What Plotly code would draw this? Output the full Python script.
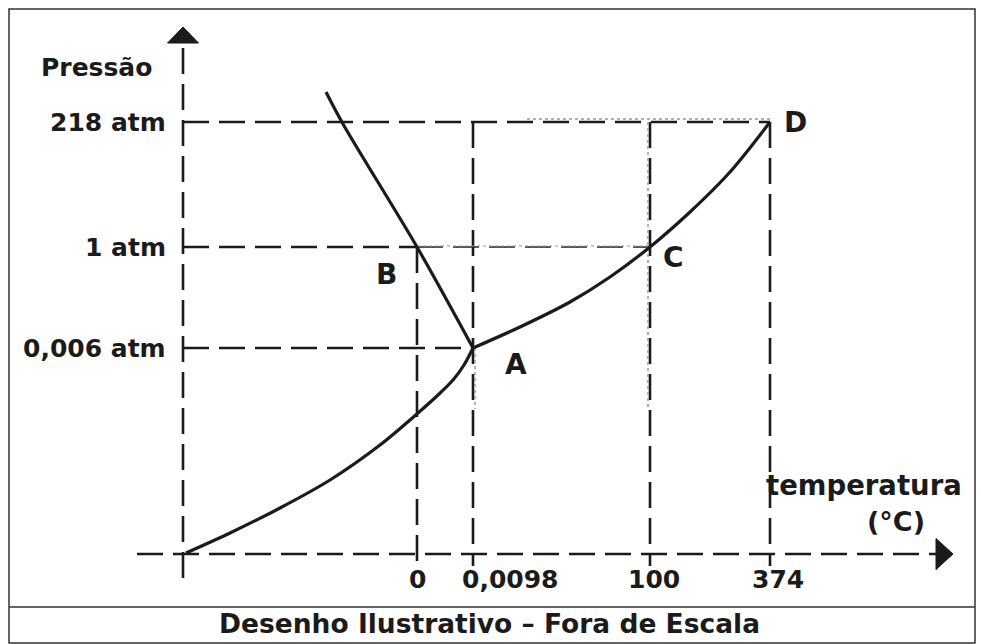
import plotly.graph_objects as go

# ---- Illustrative (not to scale) phase diagram of water ----
# positions along the drawn axes, in diagram units (origin = axes crossing)
temp_labels = ["0", "0,0098", "100", "374"]
temp_pos = [234, 290, 467, 587]
temp_label_shift = [0, 37, 4, 8]

press_labels = ["0,006 atm", "1 atm", "218 atm"]
press_pos = [206, 307, 432]

# special points: A triple point, B melting at 1 atm, C boiling at 1 atm, D critical point
point_names = ["A", "B", "C", "D"]
point_x = [temp_pos[1], temp_pos[0], temp_pos[2], temp_pos[3]]
point_y = [press_pos[0], press_pos[1], press_pos[1], press_pos[2]]
point_label_dx = [43, -31, 23, 25]
point_label_dy = [-16, -27, -10, 0]

# curves
sub_x = [3, 47, 97, 147, 197, 235, 255, 270, 281, 290]
sub_y = [1, 21, 46, 74, 109, 141, 159, 174, 189, 206]
vap_x = [290, 337, 387, 427, 467, 507, 547, 587]
vap_y = [206, 227, 252, 277, 307, 342, 382, 432]
fus_x = [143, 160, 234, 290]
fus_y = [462, 430, 307, 206]

W, H = 981, 644
X0, Y0 = 183, 554  # pixel position of the origin

INK = "#1b1b1b"
DASH = "26px,10px"
FONT = dict(family="DejaVu Sans", color=INK, weight="bold")

fig = go.Figure()


def seg(xs, ys, width=2.6, dash=DASH, color=INK):
    fig.add_trace(go.Scatter(x=xs, y=ys, mode="lines", hoverinfo="skip",
                             line=dict(color=color, width=width, dash=dash)))


# axes
Y_BOTTOM, Y_TOP, ARW = -24, 511, 16
X_LEFT, X_RIGHT = -46, 753
seg([0, 0], [Y_BOTTOM, Y_TOP])
seg([X_LEFT, X_RIGHT], [0, 0])
# arrowheads
fig.add_trace(go.Scatter(x=[-15.5, 15.5, 0, -15.5], y=[Y_TOP, Y_TOP, Y_TOP + ARW, Y_TOP],
                         mode="lines", fill="toself", fillcolor=INK, hoverinfo="skip",
                         line=dict(color=INK, width=1)))
fig.add_trace(go.Scatter(x=[X_RIGHT, X_RIGHT, X_RIGHT + 17, X_RIGHT], y=[15.5, -15.5, 0, 15.5],
                         mode="lines", fill="toself", fillcolor=INK, hoverinfo="skip",
                         line=dict(color=INK, width=1)))

# horizontal guide lines from the pressure axis
seg([0, point_x[0]], [press_pos[0]] * 2)
seg([0, point_x[1]], [press_pos[1]] * 2)
seg([point_x[1], point_x[2]], [press_pos[1]] * 2, width=2, color="#555")
seg([0, point_x[3]], [press_pos[2]] * 2)
# vertical guide lines to the temperature axis
seg([temp_pos[0]] * 2, [press_pos[1], -12])
seg([temp_pos[1]] * 2, [press_pos[2], -12])
seg([temp_pos[2]] * 2, [press_pos[2], -12])
seg([temp_pos[3]] * 2, [press_pos[2], -12])

# faint dotted scan residue
seg([temp_pos[1] + 54, temp_pos[3]], [press_pos[2] + 3] * 2, width=1.5, dash="dot", color="#999")
seg([temp_pos[2] - 2] * 2, [press_pos[2], 145], width=1.5, dash="dot", color="#999")
seg([temp_pos[1] + 2] * 2, [press_pos[0], 145], width=1.5, dash="dot", color="#999")
seg([temp_pos[0], temp_pos[2]], [press_pos[1] + 1] * 2, width=1.2, dash="dot", color="#999")

# phase boundary curves
for xs, ys in [(sub_x, sub_y), (vap_x, vap_y), (fus_x, fus_y)]:
    fig.add_trace(go.Scatter(x=xs, y=ys, mode="lines", hoverinfo="skip",
                             line=dict(color=INK, width=3.2, shape="spline", smoothing=0.9)))

ann = []
ann.append(dict(x=-87, y=487, text="Pressão", showarrow=False,
                font=dict(size=25, **FONT), xanchor="center", yanchor="middle"))
for lab, p in zip(press_labels, press_pos):
    ann.append(dict(x=-15, y=p, text=lab, showarrow=False, font=dict(size=25, **FONT),
                    xanchor="right", yanchor="middle"))
for lab, t, dx in zip(temp_labels, temp_pos, temp_label_shift):
    ann.append(dict(x=t, y=-25, text=lab, showarrow=False, font=dict(size=25, **FONT),
                    xanchor="center", yanchor="middle", xshift=dx))
for n, px, py, dx, dy in zip(point_names, point_x, point_y, point_label_dx, point_label_dy):
    ann.append(dict(x=px, y=py, text=n, showarrow=False, font=dict(size=28, **FONT),
                    xanchor="center", yanchor="middle", xshift=dx, yshift=dy))
ann.append(dict(x=681, y=69, text="temperatura", showarrow=False,
                font=dict(size=27.5, **FONT), xanchor="center", yanchor="middle"))
ann.append(dict(x=713, y=33, text="(°C)", showarrow=False,
                font=dict(size=27, **FONT), xanchor="center", yanchor="middle"))
ann.append(dict(x=489 / W, y=1 - 623 / H, xref="paper", yref="paper",
                text="Desenho Ilustrativo – Fora de Escala", showarrow=False,
                font=dict(size=26.5, **FONT), xanchor="center", yanchor="middle"))

shapes = [
    dict(type="rect", xref="paper", yref="paper", x0=9 / W, x1=975 / W, y0=1 - 643 / H, y1=1 - 9 / H,
         line=dict(color="#333", width=1.5)),
    dict(type="line", xref="paper", yref="paper", x0=9 / W, x1=975 / W, y0=1 - 607 / H, y1=1 - 607 / H,
         line=dict(color="#333", width=1.5)),
]

fig.update_layout(
    width=W, height=H, margin=dict(l=0, r=0, t=0, b=0),
    paper_bgcolor="white", plot_bgcolor="white", showlegend=False,
    xaxis=dict(range=[-X0, W - X0], visible=False, fixedrange=True),
    yaxis=dict(range=[Y0 - H, Y0], visible=False, fixedrange=True),
    annotations=ann, shapes=shapes,
)

fig.write_html("out.html", config={"displayModeBar": False},
               post_script="document.body.style.margin='0px';document.body.style.overflow='hidden';")
